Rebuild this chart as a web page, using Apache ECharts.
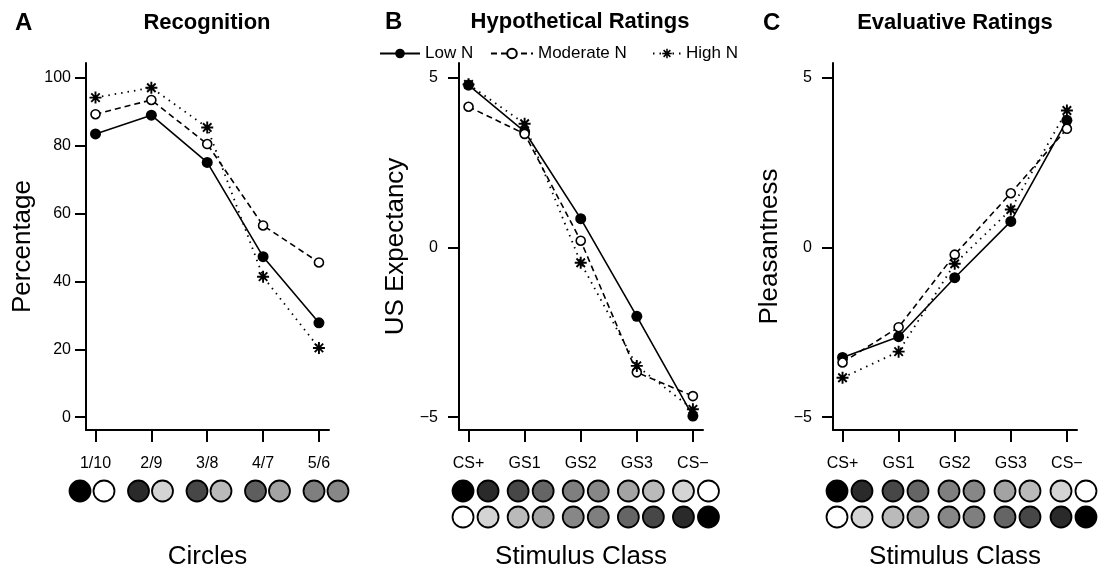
<!DOCTYPE html>
<html>
<head>
<meta charset="utf-8">
<script src="https://cdn.jsdelivr.net/npm/echarts@6/dist/echarts.min.js"></script>
<style>
  html, body { margin: 0; padding: 0; background: #fff; }
  #chart { width: 1098px; height: 569px; }
</style>
</head>
<body>
<div id="chart"></div>
<script>
// ---------- data ----------
const catsA = ['1/10', '2/9', '3/8', '4/7', '5/6'];
const catsBC = ['CS+', 'GS1', 'GS2', 'GS3', 'CS\u2212'];
const yTicksA = [0, 20, 40, 60, 80, 100];
const yTicksBC = [-5, 0, 5];
const seriesNames = ['Low N', 'Moderate N', 'High N'];

const recogLow  = [83.5, 89.0, 75.1, 47.3, 27.8];
const recogMod  = [89.3, 93.5, 80.5, 56.5, 45.6];
const recogHigh = [94.2, 97.1, 85.4, 41.4, 20.4];

const hypoLow  = [4.79, 3.42, 0.85, -2.03, -4.97];
const hypoMod  = [4.15, 3.35, 0.20, -3.68, -4.38];
const hypoHigh = [4.81, 3.65, -0.45, -3.49, -4.77];

const evalLow  = [-3.24, -2.63, -0.89, 0.77, 3.75];
const evalMod  = [-3.39, -2.35, -0.21, 1.60, 3.50];
const evalHigh = [-3.84, -3.07, -0.48, 1.12, 4.04];

// stimulus circle shades (pairs per category)
const circlesA = [['#000000', '#ffffff'], ['#2a2a2a', '#d4d4d4'], ['#474747', '#bababa'], ['#5e5e5e', '#a3a3a3'], ['#7f7f7f', '#878787']];
const circlesTop = ['#000000', '#2a2a2a', '#474747', '#656565', '#7f7f7f', '#878787', '#a3a3a3', '#bababa', '#d4d4d4', '#ffffff'];
const circlesBottom = circlesTop.slice().reverse();

// ---------- helpers ----------
const FONT = "'Liberation Sans', Arial, Helvetica, sans-serif";
const ASTER = 'path://M-1.6,-10L1.6,-10L1.6,10L-1.6,10Z M-10,-1.6L10,-1.6L10,1.6L-10,1.6Z ' +
  'M-5.94,-8.2L8.2,5.94L5.94,8.2L-8.2,-5.94Z M-8.2,5.94L5.94,-8.2L8.2,-5.94L-5.94,8.2Z';

const styles = [
  { symbol: 'circle', symbolSize: 11, itemStyle: { color: '#000' }, lineStyle: { color: '#000', width: 1.6, type: 'solid' } },
  { symbol: 'circle', symbolSize: 9, itemStyle: { color: '#fff', borderColor: '#000', borderWidth: 1.6 }, lineStyle: { color: '#000', width: 1.6, type: [6, 4] } },
  { symbol: ASTER, symbolSize: 12, itemStyle: { color: '#000' }, lineStyle: { color: '#000', width: 1.8, type: [1.5, 5] } }
];

function lineSeries(name, vals, idx, style) {
  return Object.assign({
    type: 'line', name: name, xAxisIndex: idx, yAxisIndex: idx,
    data: vals.map((v, i) => [i + 1, v]),
    z: 3, animation: false
  }, JSON.parse(JSON.stringify(style)));
}

function xAxisPlot(idx, cats) {
  return {
    type: 'value', gridIndex: idx, min: 0.83, max: 5.18,
    axisLine: { show: true, onZero: false, lineStyle: { color: '#000', width: 2 } },
    axisTick: { show: true, customValues: [1, 2, 3, 4, 5], length: 12, lineStyle: { color: '#000', width: 2 } },
    axisLabel: { customValues: [1, 2, 3, 4, 5], margin: 26, color: '#000', fontSize: 16, fontFamily: FONT,
      formatter: v => cats[Math.round(v) - 1] },
    splitLine: { show: false },
    name: idx === 0 ? 'Circles' : 'Stimulus Class',
    nameLocation: 'middle', nameGap: 114,
    nameTextStyle: { fontSize: 26, color: '#000', fontFamily: FONT }
  };
}

function yAxisPlot(idx, min, max, ticks, name, margin) {
  return {
    type: 'value', gridIndex: idx, min: min, max: max,
    axisLine: { show: true, onZero: false, lineStyle: { color: '#000', width: 2 } },
    axisTick: { show: true, customValues: ticks, length: 11, lineStyle: { color: '#000', width: 2 } },
    axisLabel: { customValues: ticks, margin: margin, color: '#000', fontSize: 16, fontFamily: FONT,
      formatter: v => (v < 0 ? '\u2212' + Math.abs(v) : String(v)) },
    splitLine: { show: false },
    name: name, nameLocation: 'middle', nameGap: 50,
    nameTextStyle: { fontSize: 26, color: '#000', fontFamily: FONT }
  };
}

function hiddenAxis(idx, min, max, inverse) {
  return { type: 'value', gridIndex: idx, min: min, max: max, inverse: !!inverse, show: false,
    splitLine: { show: false } };
}

function circleSeries(idx, rows, offset) {
  const data = [];
  rows.forEach((row, r) => {
    row.forEach((col, k) => {
      const cat = Math.floor(k / 2);
      const side = k % 2 === 0 ? -offset : offset;
      data.push({ value: [cat + side, r], itemStyle: { color: col } });
    });
  });
  return {
    type: 'scatter', xAxisIndex: idx, yAxisIndex: idx, symbol: 'circle', symbolSize: 21,
    itemStyle: { borderColor: '#000', borderWidth: 1.8, opacity: 1 }, data: data, silent: true, animation: false
  };
}

const rowA = [circlesA.flat()];
const rowsBC = [circlesTop, circlesBottom];

const chart = echarts.init(document.getElementById('chart'), null, { renderer: 'canvas' });

const legendBase = {
  orient: 'horizontal', top: 40, itemHeight: 12, itemGap: 10,
  textStyle: { fontSize: 17, color: '#000', fontFamily: FONT }, selectedMode: false
};

const g = (o) => Object.assign({ outerBoundsMode: 'none', containLabel: false }, o);

const option = {
  backgroundColor: '#fff',
  animation: false,
  textStyle: { fontFamily: FONT },
  grid: [
    g({ left: 86, top: 63, width: 243, height: 367 }),
    g({ left: 459, top: 63, width: 244, height: 367 }),
    g({ left: 833, top: 63, width: 244, height: 367 }),
    g({ left: 62.75, top: 478, width: 292.5, height: 52 }),
    g({ left: 448, top: 478, width: 275.5, height: 52 }),
    g({ left: 821.5, top: 478, width: 280, height: 52 })
  ],
  xAxis: [
    xAxisPlot(0, catsA), xAxisPlot(1, catsBC), xAxisPlot(2, catsBC),
    hiddenAxis(3, -0.5, 4.5), hiddenAxis(4, -0.5, 4.5), hiddenAxis(5, -0.5, 4.5)
  ],
  yAxis: [
    yAxisPlot(0, -3.8, 104.4, yTicksA, 'Percentage', 15),
    yAxisPlot(1, -5.38, 5.44, yTicksBC, 'US Expectancy', 21),
    yAxisPlot(2, -5.38, 5.44, yTicksBC, 'Pleasantness', 21),
    hiddenAxis(3, -0.5, 1.5, true), hiddenAxis(4, -0.5, 1.5, true), hiddenAxis(5, -0.5, 1.5, true)
  ],
  legend: [
    Object.assign({}, legendBase, { left: 374, itemWidth: 40, data: [seriesNames[0]] }),
    Object.assign({}, legendBase, { left: 485, itemWidth: 42, data: [seriesNames[1]] }),
    Object.assign({}, legendBase, { left: 647, itemWidth: 28, data: [seriesNames[2]] })
  ],
  graphic: [
    { type: 'text', left: 15, top: 11, style: { text: 'A', font: "bold 24px " + FONT, fill: '#000' } },
    { type: 'text', x: 207, y: 23, style: { text: 'Recognition', font: "bold 22px " + FONT, fill: '#000', textAlign: 'center', textVerticalAlign: 'middle' } },
    { type: 'text', left: 385, top: 10, style: { text: 'B', font: "bold 24px " + FONT, fill: '#000' } },
    { type: 'text', x: 580, y: 22, style: { text: 'Hypothetical Ratings', font: "bold 22px " + FONT, fill: '#000', textAlign: 'center', textVerticalAlign: 'middle' } },
    { type: 'text', left: 763, top: 11, style: { text: 'C', font: "bold 24px " + FONT, fill: '#000' } },
    { type: 'text', x: 955, y: 23, style: { text: 'Evaluative Ratings', font: "bold 22px " + FONT, fill: '#000', textAlign: 'center', textVerticalAlign: 'middle' } }
  ],
  series: [
    lineSeries(seriesNames[0], recogLow, 0, styles[0]),
    lineSeries(seriesNames[1], recogMod, 0, styles[1]),
    lineSeries(seriesNames[2], recogHigh, 0, styles[2]),
    lineSeries(seriesNames[0], hypoLow, 1, styles[0]),
    lineSeries(seriesNames[1], hypoMod, 1, styles[1]),
    lineSeries(seriesNames[2], hypoHigh, 1, styles[2]),
    lineSeries(seriesNames[0], evalLow, 2, styles[0]),
    lineSeries(seriesNames[1], evalMod, 2, styles[1]),
    lineSeries(seriesNames[2], evalHigh, 2, styles[2]),
    circleSeries(3, rowA, 0.205),
    circleSeries(4, rowsBC, 0.227),
    circleSeries(5, rowsBC, 0.223)
  ]
};

chart.setOption(option);
</script>
</body>
</html>
